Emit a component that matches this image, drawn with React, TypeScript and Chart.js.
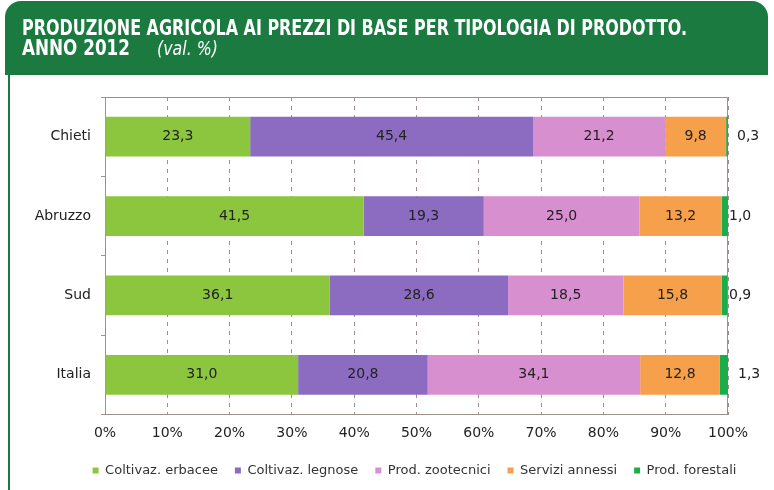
import React, { useEffect, useLayoutEffect, useRef } from "react";
import { Chart, registerables } from "chart.js";

Chart.register(...registerables);

const categories = ["Chieti", "Abruzzo", "Sud", "Italia"];
const seriesNames = [
  "Coltivaz. erbacee",
  "Coltivaz. legnose",
  "Prod. zootecnici",
  "Servizi annessi",
  "Prod. forestali",
];
const erbacee = [23.3, 41.5, 36.1, 31.0];
const legnose = [45.4, 19.3, 28.6, 20.8];
const zootecnici = [21.2, 25.0, 18.5, 34.1];
const servizi = [9.8, 13.2, 15.8, 12.8];
const forestali = [0.3, 1.0, 0.9, 1.3];
const seriesValues = [erbacee, legnose, zootecnici, servizi, forestali];
const seriesColors = ["#8cc63f", "#8b6cc1", "#d88fcf", "#f7a04b", "#1aae4a"];
const titleLine1 = "PRODUZIONE AGRICOLA AI PREZZI DI BASE PER TIPOLOGIA DI PRODOTTO.";
const titleLine2 = "ANNO 2012";
const titleUnit = "(val. %)";

const FONT = "'DejaVu Sans', sans-serif";
const GRID = "#9d928b";
const lastLabelOffsets = [9, 1, 1, 10];

function fmt(v: number) {
  return v.toFixed(1).replace(".", ",");
}

const labelPlugin = {
  id: "valueLabels",
  afterDatasetsDraw(chart: any) {
    const ctx = chart.ctx;
    const n = chart.data.datasets.length;
    ctx.save();
    ctx.font = `14px ${FONT}`;
    ctx.fillStyle = "#222";
    ctx.textBaseline = "middle";
    chart.data.datasets.forEach((ds: any, i: number) => {
      const meta = chart.getDatasetMeta(i);
      meta.data.forEach((bar: any, j: number) => {
        const v = ds.data[j];
        if (i === n - 1) {
          ctx.textAlign = "left";
          ctx.fillText(fmt(v), chart.chartArea.right + lastLabelOffsets[j], bar.y);
        } else {
          ctx.textAlign = "center";
          ctx.fillText(fmt(v), (bar.x + bar.base) / 2, bar.y);
        }
      });
    });
    ctx.restore();
  },
};

const framePlugin = {
  id: "frame",
  beforeDatasetsDraw(chart: any) {
    const { ctx, chartArea } = chart;
    ctx.save();
    ctx.strokeStyle = GRID;
    ctx.lineWidth = 1;
    ctx.setLineDash([]);
    ctx.beginPath();
    ctx.moveTo(Math.round(chartArea.left) + 0.5, Math.round(chartArea.top) + 0.5);
    ctx.lineTo(Math.round(chartArea.right) - 0.5, Math.round(chartArea.top) + 0.5);
    ctx.lineTo(Math.round(chartArea.right) - 0.5, Math.round(chartArea.bottom));
    ctx.stroke();
    ctx.restore();
  },
};

function FitText({ text, width, style }: { text: string; width: number; style: any }) {
  const ref = useRef<HTMLSpanElement>(null);
  useLayoutEffect(() => {
    const el = ref.current;
    if (!el) return;
    const fit = () => {
      el.style.transform = "none";
      const w = el.getBoundingClientRect().width;
      if (w > 0) el.style.transform = `scaleX(${width / w})`;
    };
    fit();
    if ((document as any).fonts && (document as any).fonts.ready) {
      (document as any).fonts.ready.then(fit);
    }
  }, [text, width]);
  return (
    <span
      ref={ref}
      style={{
        position: "absolute",
        whiteSpace: "nowrap",
        transformOrigin: "0 0",
        display: "inline-block",
        ...style,
      }}
    >
      {text}
    </span>
  );
}

export default function App() {
  const canvasRef = useRef<HTMLCanvasElement>(null);

  useEffect(() => {
    const canvas = canvasRef.current;
    if (!canvas) return;
    const chart = new Chart(canvas, {
      type: "bar",
      data: {
        labels: categories,
        datasets: seriesValues.map((vals, i) => ({
          label: seriesNames[i],
          data: vals,
          backgroundColor: seriesColors[i],
          borderWidth: 0,
          barPercentage: 0.5,
          categoryPercentage: 1,
          yAxisID: "y",
        })),
      },
      options: {
        indexAxis: "y",
        responsive: false,
        animation: false,
        layout: { padding: { left: 0, right: -55, top: 97, bottom: 3 } },
        scales: {
          x: {
            stacked: true,
            min: 0,
            max: 100,
            afterFit: (scale: any) => {
              scale.height = 32.5;
            },
            ticks: {
              stepSize: 10,
              callback: (v: any) => `${v}%`,
              color: "#222",
              font: { family: FONT, size: 14 },
              padding: 10,
            },
            grid: {
              drawTicks: false,
              color: GRID,
              lineWidth: 1,
            },
            border: { display: true, color: GRID, dash: [4, 5], width: 1 },
          },
          y: {
            stacked: true,
            afterFit: (scale: any) => {
              scale.width = 105;
            },
            ticks: {
              color: "#222",
              font: { family: FONT, size: 14 },
              padding: 10,
            },
            grid: {
              drawOnChartArea: false,
              drawTicks: true,
              tickLength: 4,
              color: GRID,
              offset: true,
            },
            border: { display: true, color: GRID, width: 1 },
          },
          yRight: {
            type: "category",
            position: "right",
            display: true,
            afterFit: (scale: any) => {
              scale.width = 101;
            },
            ticks: { display: false },
            grid: { display: false, drawTicks: false },
            border: { display: false },
          },
        },
        plugins: {
          legend: {
            position: "bottom",
            labels: {
              boxWidth: 6,
              boxHeight: 6,
              padding: 17,
              color: "#333",
              font: { family: FONT, size: 13 },
            },
          },
          tooltip: { enabled: false },
          title: { display: false },
        },
      },
      plugins: [labelPlugin, framePlugin],
    } as any);
    return () => chart.destroy();
  }, []);

  const green = "#1a7a40";
  return (
    <div>
      <div
        style={{
          position: "fixed",
          left: 5,
          top: 1,
          width: 763,
          height: 74,
          background: green,
          borderRadius: "16px 16px 0 0",
          zIndex: 2,
        }}
      />
      <div
        style={{
          position: "fixed",
          left: 8,
          top: 74,
          width: 2,
          height: 416,
          background: green,
          zIndex: 2,
        }}
      />
      <div style={{ position: "fixed", left: 0, top: 0, width: 774, height: 80, zIndex: 3, color: "#fff" }}>
        <FitText
          text={titleLine1}
          width={665}
          style={{
            left: 22,
            top: 18,
            fontFamily: "'DejaVu Sans Condensed', 'DejaVu Sans', sans-serif",
            fontStretch: "condensed",
            fontWeight: "bold",
            fontSize: 21,
            lineHeight: "21px",
          }}
        />
        <FitText
          text={titleLine2}
          width={108}
          style={{
            left: 22,
            top: 37.5,
            fontFamily: "'DejaVu Sans Condensed', 'DejaVu Sans', sans-serif",
            fontStretch: "condensed",
            fontWeight: "bold",
            fontSize: 21,
            lineHeight: "21px",
          }}
        />
        <FitText
          text={titleUnit}
          width={61}
          style={{
            left: 157,
            top: 37.5,
            fontFamily: "'DejaVu Sans Condensed', 'DejaVu Sans', sans-serif",
            fontStretch: "condensed",
            fontStyle: "italic",
            fontWeight: "normal",
            fontSize: 20,
            lineHeight: "21px",
          }}
        />
      </div>
      <canvas
        ref={canvasRef}
        width={774}
        height={490}
        style={{ position: "fixed", left: 0, top: 0, width: 774, height: 490, zIndex: 1 }}
      />
    </div>
  );
}
